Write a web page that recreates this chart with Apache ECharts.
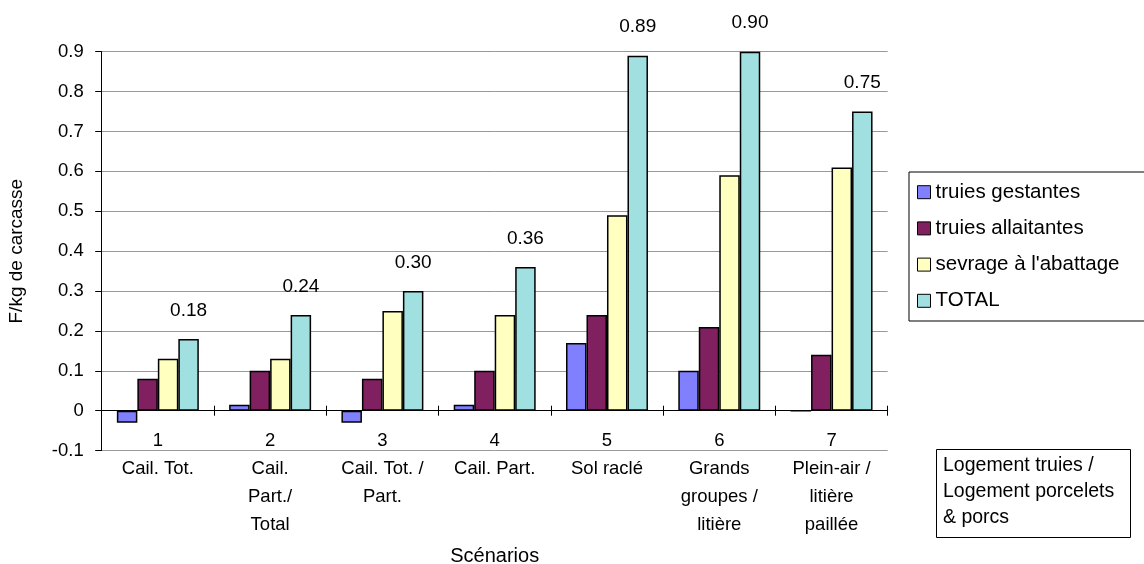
<!DOCTYPE html>
<html>
<head>
<meta charset="utf-8">
<script src="https://cdn.jsdelivr.net/npm/echarts@6/dist/echarts.min.js"></script>
<style>
  html, body { margin: 0; padding: 0; background: #ffffff; }
  #chart { width: 1144px; height: 564px; }
</style>
</head>
<body>
<div id="chart"></div>
<script>
// Scenario numbers and housing descriptions (sows / piglets & pigs)
const scenarioNumbers = ['1', '2', '3', '4', '5', '6', '7'];
const scenarioNames = [
  'Cail. Tot.',
  'Cail.\nPart./\nTotal',
  'Cail. Tot. /\nPart.',
  'Cail. Part.',
  'Sol raclé',
  'Grands\ngroupes /\nlitière',
  'Plein-air /\nlitière\npaillée'
];

// Cost in F/kg de carcasse, per production stage
const truiesGestantes   = [-0.03, 0.015, -0.03, 0.015, 0.17, 0.10, 0];
const truiesAllaitantes = [0.08, 0.10, 0.08, 0.10, 0.24, 0.21, 0.14];
const sevrageAbattage   = [0.13, 0.13, 0.25, 0.24, 0.49, 0.59, 0.61];
const totalCost         = [0.18, 0.24, 0.30, 0.36, 0.89, 0.90, 0.75];

const seriesNames = ['truies gestantes', 'truies allaitantes', "sevrage à l'abattage", 'TOTAL'];
const seriesColors = ['#8080ff', '#802060', '#ffffc0', '#a0e0e0'];
const seriesValues = [truiesGestantes, truiesAllaitantes, sevrageAbattage, totalCost];

// Value range of the plot
const yMin = -0.1, yMax = 0.9, yStep = 0.1;

const FONT = '"Liberation Sans", Arial, sans-serif';

// Plot box in pixels
const PLOT_LEFT = 101.7, PLOT_RIGHT = 887.7, PLOT_TOP = 51.7, PLOT_BOTTOM = 450.6;
const W = 1144, H = 564;
const zeroY = PLOT_TOP + (PLOT_BOTTOM - PLOT_TOP) * (yMax - 0) / (yMax - yMin);

const gridBase = { left: PLOT_LEFT, right: W - PLOT_RIGHT, containLabel: false, outerBoundsMode: 'none' };

const chart = echarts.init(document.getElementById('chart'), null, { renderer: 'canvas' });

const series = seriesNames.map((name, i) => ({
  name: name,
  type: 'bar',
  xAxisIndex: 0,
  yAxisIndex: 0,
  data: seriesValues[i],
  barGap: '0%',
  barCategoryGap: '27%',
  itemStyle: { color: seriesColors[i], borderColor: '#000000', borderWidth: 1.5 },
  emphasis: { disabled: true },
  label: i === 3 ? {
    show: true,
    position: 'top',
    distance: 19,
    color: '#000000',
    fontFamily: FONT,
    fontSize: 19,
    formatter: (p) => p.value.toFixed(2)
  } : { show: false }
}));

chart.setOption({
  animation: false,
  backgroundColor: '#ffffff',
  textStyle: { fontFamily: FONT, color: '#000000' },
  grid: [
    // bars and value axis
    Object.assign({}, gridBase, { top: PLOT_TOP, bottom: H - PLOT_BOTTOM }),
    // category axis lying on the zero line
    Object.assign({}, gridBase, { top: PLOT_TOP, bottom: H - zeroY }),
    // tick marks crossing the zero line
    Object.assign({}, gridBase, { top: PLOT_TOP, bottom: H - zeroY - 5 })
  ],
  legend: {
    orient: 'vertical',
    left: 909,
    top: 172,
    padding: [9.7, 60, 9.7, 8],
    itemWidth: 13,
    itemHeight: 13,
    itemGap: 15.2,
    itemTextGap: 9,
    icon: 'rect',
    borderColor: '#000000',
    borderWidth: 1,
    backgroundColor: '#ffffff',
    selectedMode: false,
    itemStyle: { borderColor: '#000000', borderWidth: 1 },
    textStyle: { fontFamily: FONT, fontSize: 20.5, lineHeight: 20, color: '#000000' },
    data: seriesNames
  },
  xAxis: [
    {
      gridIndex: 0,
      type: 'category',
      data: scenarioNumbers,
      show: false
    },
    {
      gridIndex: 1,
      type: 'category',
      data: scenarioNumbers,
      position: 'bottom',
      name: 'Scénarios',
      nameLocation: 'middle',
      nameGap: 136,
      nameTextStyle: { fontFamily: FONT, fontSize: 20, color: '#000000' },
      axisLine: { show: true, onZero: false, lineStyle: { color: '#000000', width: 1 } },
      axisTick: { show: false },
      axisLabel: {
        interval: 0,
        margin: 16,
        fontFamily: FONT,
        fontSize: 18.5,
        lineHeight: 28,
        color: '#000000',
        formatter: (value, index) => value + '\n' + scenarioNames[index]
      },
      splitLine: { show: false }
    },
    {
      gridIndex: 2,
      type: 'category',
      data: scenarioNumbers,
      position: 'bottom',
      axisLine: { show: false, onZero: false },
      axisTick: { show: true, inside: true, length: 10, lineStyle: { color: '#000000' } },
      axisLabel: { show: false },
      splitLine: { show: false }
    }
  ],
  yAxis: [
    {
      gridIndex: 0,
      type: 'value',
      min: yMin,
      max: yMax,
      interval: yStep,
      name: 'F/kg de carcasse',
      nameLocation: 'middle',
      nameGap: 75,
      nameTextStyle: { fontFamily: FONT, fontSize: 19, color: '#000000' },
      axisLine: { show: true, onZero: false, lineStyle: { color: '#000000', width: 1 } },
      axisTick: { show: true, inside: false, length: 6.5, lineStyle: { color: '#000000' } },
      axisLabel: {
        margin: 18,
        fontFamily: FONT,
        fontSize: 18.5,
        color: '#000000',
        formatter: (v) => {
          const r = Math.round(v * 10) / 10;
          return r === 0 ? '0' : r.toFixed(1);
        }
      },
      splitLine: { show: true, lineStyle: { color: '#999999', width: 1 } }
    },
    { gridIndex: 1, type: 'value', min: 0, max: 1, show: false, splitLine: { show: false } },
    { gridIndex: 2, type: 'value', min: 0, max: 1, show: false, splitLine: { show: false } }
  ],
  graphic: [
    {
      type: 'rect',
      left: 936,
      top: 449,
      shape: { width: 194, height: 88 },
      style: { fill: '#ffffff', stroke: '#000000', lineWidth: 1 },
      z: 10
    },
    {
      type: 'text',
      left: 943,
      top: 453,
      style: {
        text: 'Logement truies /\nLogement porcelets\n& porcs',
        fontFamily: FONT,
        fontSize: 19.5,
        lineHeight: 26,
        fill: '#000000'
      },
      z: 11
    }
  ],
  series: series
});
</script>
</body>
</html>
